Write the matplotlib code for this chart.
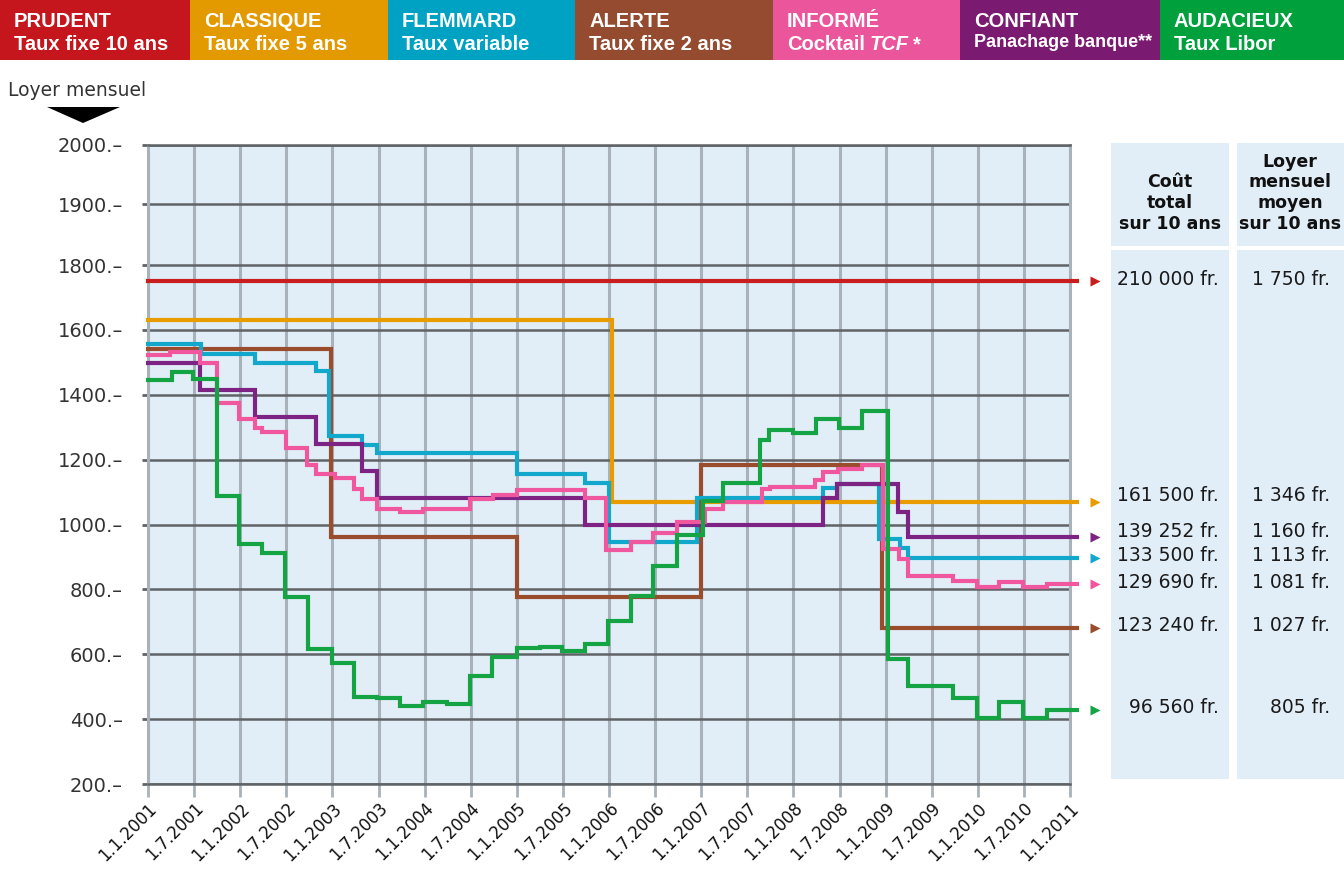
import numpy as np
import matplotlib
matplotlib.use('Agg')
import matplotlib.pyplot as plt
from matplotlib.patches import Rectangle, Polygon
from matplotlib.transforms import blended_transform_factory

plt.rcParams['font.family'] = ['DejaVu Sans']

W, H = 1344, 869

# --- data ---
titles = ['PRUDENT', 'CLASSIQUE', 'FLEMMARD', 'ALERTE', 'INFORMÉ', 'CONFIANT', 'AUDACIEUX']
subtitles = ['Taux fixe 10 ans', 'Taux fixe 5 ans', 'Taux variable', 'Taux fixe 2 ans',
             'Cocktail TCF *', 'Panachage banque**', 'Taux Libor']
box_colors = ['#c4161c', '#e39a00', '#00a2c4', '#944b2f', '#ea559b', '#7b1a71', '#00a03c']
line_colors = ['#c81e1e', '#e89c00', '#12a8cc', '#9a4d2c', '#f0579e', '#7c2384', '#14a443']

prudent_t = [2001.0]
prudent_v = [1750]

classique_t = [2001.0, 2006.03]
classique_v = [1630, 1070]

flemmard_t = [2001.0, 2001.57, 2002.16, 2002.82, 2002.96, 2003.32, 2003.48, 2005.0, 2005.74,
              2006.0, 2006.95, 2008.32, 2008.47, 2008.93, 2009.16, 2009.24]
flemmard_v = [1557, 1527, 1499, 1474, 1274, 1246, 1220, 1157, 1129,
              945, 1083, 1114, 1126, 954, 929, 898]

alerte_t = [2001.0, 2002.98, 2005.0, 2007.0, 2008.96]
alerte_v = [1542, 960, 775, 1182, 680]

informe_t = [2001.0, 2001.24, 2001.56, 2001.75, 2001.99, 2002.16, 2002.24, 2002.5, 2002.72, 2002.82,
             2003.03, 2003.23, 2003.32, 2003.48, 2003.73, 2003.98, 2004.49, 2004.74, 2005.0, 2005.74,
             2005.97, 2006.24, 2006.48, 2006.74, 2007.04, 2007.24, 2007.66, 2007.75, 2008.23, 2008.32,
             2008.48, 2008.74, 2008.97, 2009.15, 2009.24, 2009.73, 2009.99, 2010.23, 2010.49, 2010.75]
informe_v = [1524, 1532, 1499, 1376, 1326, 1296, 1286, 1237, 1185, 1157,
             1142, 1108, 1080, 1049, 1040, 1049, 1080, 1092, 1105, 1083,
             920, 945, 975, 1008, 1049, 1068, 1108, 1117, 1136, 1163,
             1172, 1182, 923, 895, 840, 825, 806, 822, 806, 818]

confiant_t = [2001.0, 2001.56, 2002.16, 2002.82, 2003.32, 2003.48, 2005.74, 2008.32, 2008.47,
              2009.13, 2009.24]
confiant_v = [1499, 1416, 1330, 1249, 1166, 1083, 1000, 1083, 1126, 1040, 960]

audacieux_t = [2001.0, 2001.26, 2001.49, 2001.75, 2001.99, 2002.24, 2002.49, 2002.74, 2003.0, 2003.23,
               2003.48, 2003.73, 2003.98, 2004.24, 2004.49, 2004.73, 2005.0, 2005.25, 2005.49, 2005.74,
               2005.99, 2006.24, 2006.48, 2006.74, 2007.02, 2007.24, 2007.64, 2007.74, 2008.0, 2008.25,
               2008.49, 2008.74, 2009.03, 2009.24, 2009.73, 2009.99, 2010.23, 2010.49, 2010.75]
audacieux_v = [1447, 1471, 1450, 1089, 941, 911, 775, 615, 572, 467,
               464, 440, 452, 446, 532, 593, 618, 622, 609, 633,
               704, 781, 871, 969, 1074, 1129, 1259, 1292, 1283, 1326,
               1299, 1349, 584, 501, 464, 402, 452, 402, 427]

cout_total = ['210 000 fr.', '161 500 fr.', '133 500 fr.', '123 240 fr.',
              '129 690 fr.', '139 252 fr.', '96 560 fr.']
loyer_moyen = ['1 750 fr.', '1 346 fr.', '1 113 fr.', '1 027 fr.',
               '1 081 fr.', '1 160 fr.', '805 fr.']

x_labels = ['1.1.2001', '1.7.2001', '1.1.2002', '1.7.2002', '1.1.2003', '1.7.2003', '1.1.2004',
            '1.7.2004', '1.1.2005', '1.7.2005', '1.1.2006', '1.7.2006', '1.1.2007', '1.7.2007',
            '1.1.2008', '1.7.2008', '1.1.2009', '1.7.2009', '1.1.2010', '1.7.2010', '1.1.2011']
# the printed scale is squeezed at the top: "1900" and "2000" sit above 1800 at odd spacing
y_ticks = [200, 400, 600, 800, 1000, 1200, 1400, 1600, 1800, 1988, 2170]
y_labels = ['200.–', '400.–', '600.–', '800.–', '1000.–', '1200.–', '1400.–', '1600.–',
            '1800.–', '1900.–', '2000.–']

series = [(prudent_t, prudent_v), (classique_t, classique_v), (flemmard_t, flemmard_v),
          (alerte_t, alerte_v), (informe_t, informe_v), (confiant_t, confiant_v),
          (audacieux_t, audacieux_v)]


def fx(px):
    return px / W


def fy(py):
    return 1 - py / H


fig = plt.figure(figsize=(W / 100, H / 100), dpi=100)

# header band
edges = [0, 190, 388, 575, 773, 960, 1160, 1344]
for i in range(7):
    fig.add_artist(Rectangle((fx(edges[i]), fy(60)), fx(edges[i + 1] - edges[i]), 60 / H,
                             transform=fig.transFigure, color=box_colors[i], lw=0, zorder=-1))
    fig.text(fx(edges[i] + 14), fy(27), titles[i], color='white', fontsize=14.5,
             fontweight='bold', family='Liberation Sans', va='baseline')
    if titles[i] == 'INFORMÉ':
        t1 = fig.text(fx(edges[i] + 14), fy(50), 'Cocktail', color='white', fontsize=14.5,
                      fontweight='bold', family='Liberation Sans', va='baseline')
        t2 = fig.text(0, 0, 'TCF', color='white', fontsize=14.5, fontweight='bold',
                      fontstyle='italic', family='Liberation Sans', va='baseline')
        fig.canvas.draw()
        bb = t1.get_window_extent()
        t2.set_position((bb.x1 / W + fx(5), fy(50)))
        bb2 = t2.get_window_extent(fig.canvas.get_renderer())
        fig.text(bb2.x1 / W + fx(4), fy(50), '*', color='white', fontsize=14.5,
                 fontweight='bold', family='Liberation Sans', va='baseline')
    else:
        fs = 13 if titles[i] == 'CONFIANT' else 14.5
        fig.text(fx(edges[i] + 14), fy(50 if fs > 14 else 47), subtitles[i], color='white',
                 fontsize=fs, fontweight='bold', family='Liberation Sans', va='baseline')

# y axis caption and arrow
fig.text(fx(8), fy(91), 'Loyer mensuel', fontsize=13.5, color='#333333', va='center')
fig.add_artist(Polygon([(fx(47), fy(107)), (fx(120), fy(107)), (fx(83), fy(123))],
                       closed=True, transform=fig.transFigure, color='black', lw=0, zorder=-1))

# main chart
ax = fig.add_axes([fx(148), fy(784), fx(1070 - 148), fy(145) - fy(784)])
ax.set_facecolor('#e2eef7')
ax.set_xlim(2001, 2011)
ax.set_ylim(200, 2170)
ax.set_axisbelow(True)

ax.set_xticks(np.arange(2001, 2011.01, 0.5))
ax.set_xticklabels(x_labels, rotation=45, ha='right', va='top', rotation_mode='anchor',
                   fontsize=12, color='#111111')
ax.set_yticks(y_ticks)
ax.set_yticklabels(y_labels, fontsize=14, color='#333333')
ax.tick_params(axis='x', length=9, width=2, color='#a9b2ba', pad=2)
ax.tick_params(axis='y', length=4, width=2, color='#5f6366', pad=14)
ax.xaxis.grid(True, color='#a9b2ba', lw=2.2)
ax.yaxis.grid(True, color='#5f6366', lw=1.8)
for side in ['left', 'right']:
    ax.spines[side].set_color('#a9b2ba')
    ax.spines[side].set_linewidth(2.2)
for side in ['top', 'bottom']:
    ax.spines[side].set_color('#5f6366')
    ax.spines[side].set_linewidth(1.8)

draw_order = [0, 1, 3, 2, 5, 4, 6]
for i in draw_order:
    t, v = series[i]
    xs = list(t) + [2011.08]
    ys = list(v) + [v[-1]]
    ax.plot(xs, ys, drawstyle='steps-post', color=line_colors[i], lw=3, clip_on=False,
            solid_joinstyle='miter', zorder=3)
    ax.plot(2011.27, v[-1], marker='>', ms=6.5, color=line_colors[i], clip_on=False,
            zorder=3, mec='none')

# right-hand summary columns
trans = blended_transform_factory(fig.transFigure, ax.transData)
for x0, x1 in [(1111, 1229), (1237, 1344)]:
    fig.add_artist(Rectangle((fx(x0), fy(246)), fx(x1 - x0), (246 - 143) / H,
                             transform=fig.transFigure, color='#e1edf7', lw=0, zorder=-1))
    fig.add_artist(Rectangle((fx(x0), fy(779)), fx(x1 - x0), (779 - 250) / H,
                             transform=fig.transFigure, color='#e1edf7', lw=0, zorder=-1))
fig.text(fx(1170), fy(233), 'Coût\ntotal\nsur 10 ans', ha='center', va='bottom',
         ma='center', fontsize=12.5, fontweight='bold', color='#111111')
fig.text(fx(1290), fy(233), 'Loyer\nmensuel\nmoyen\nsur 10 ans', ha='center', va='bottom',
         ma='center', fontsize=12.5, fontweight='bold', color='#111111')
# the figures sit a few pixels above their arrow in the original
nudge = [6, 18, 6, 9, 3, 18, 9]
for i in range(7):
    yv = series[i][1][-1] + nudge[i]
    fig.text(fx(1219), yv, cout_total[i], transform=trans, ha='right', va='center',
             fontsize=13.5, color='#1a1a1a', zorder=5)
    fig.text(fx(1330), yv, loyer_moyen[i], transform=trans, ha='right', va='center',
             fontsize=13.5, color='#1a1a1a', zorder=5)

fig.savefig('out.png', dpi=100)
